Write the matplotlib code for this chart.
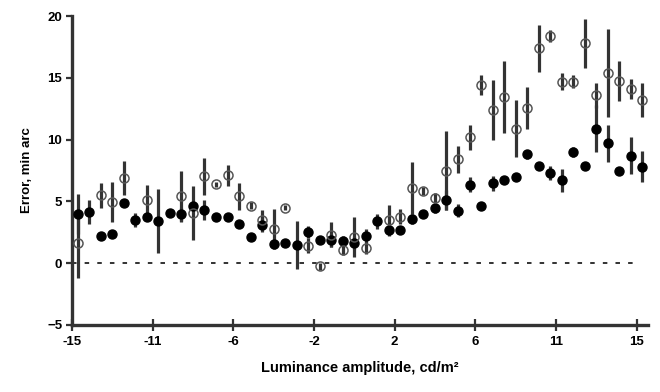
import numpy as np
import matplotlib.pyplot as plt

plt.rcParams['font.family'] = ['Liberation Sans', 'DejaVu Sans']
plt.rcParams['font.weight'] = 'bold'

# 50 luminance-amplitude categories, labelled every 7th
tick_labels = ["-15", "-11", "-6", "-2", "2", "6", "11", "15"]

# filled symbols
filled = [4.0, 4.15, 2.2, 2.4, 4.9, 3.5, 3.7, 3.4, 4.05, 3.95,
          4.6, 4.3, 3.75, 3.75, 3.15, 2.1, 3.1, 1.55, 1.65, 1.5,
          2.5, 1.9, 1.85, 1.8, 1.65, 2.2, 3.4, 2.7, 2.7, 3.6,
          3.95, 4.5, 5.1, 4.25, 6.35, 4.65, 6.45, 6.7, 7.0, 8.8,
          7.9, 7.3, 6.7, 9.0, 7.9, 10.9, 9.7, 7.5, 8.7, 7.8]
filled_err = [1.6, 1.0, 0.3, 0.3, 0.3, 0.6, 0.3, 2.6, 0.3, 0.5,
              0.4, 0.8, 0.3, 0.3, 0.3, 0.2, 0.6, 0.4, 0.2, 1.95,
              0.5, 0.3, 0.5, 0.4, 0.5, 0.6, 0.6, 0.5, 0.3, 0.4,
              0.3, 0.4, 0.8, 0.5, 0.6, 0.3, 0.6, 0.3, 0.3, 0.4,
              0.3, 0.6, 0.9, 0.4, 0.3, 1.9, 1.5, 0.3, 1.5, 1.25]

# open symbols (nan = hidden behind a filled one)
nan = np.nan
opened = [1.6, nan, 5.5, 4.95, 6.9, nan, 5.1, nan, nan, 5.4,
          4.05, 7.05, 6.4, 7.1, 5.4, 4.65, 3.5, 2.8, 4.5, nan,
          1.4, -0.25, 2.3, 1.05, 2.1, 1.25, nan, 3.5, 3.75, 6.1,
          5.85, 5.25, 7.5, 8.4, 10.2, 14.4, 12.4, 13.45, 10.9, 12.6,
          17.4, 18.4, 14.7, 14.7, 17.8, 13.6, 15.4, 14.75, 14.1, 13.2]
opened_err = [2.8, 0, 1.0, 1.6, 1.4, 0, 1.2, 0, 0, 2.1,
              2.2, 1.5, 0.2, 0.85, 1.1, 0.3, 0.8, 1.6, 0.2, 0,
              0.6, 0.3, 1.0, 0.4, 1.6, 0.5, 0, 1.2, 0.6, 2.1,
              0.3, 0.4, 3.2, 1.1, 1.0, 0.8, 2.45, 2.95, 2.3, 1.7,
              1.9, 0.5, 0.7, 0.5, 2.0, 1.0, 3.55, 1.6, 0.8, 1.4]

x = np.arange(len(filled)) + 0.5

fig = plt.figure(figsize=(6.6, 3.92), dpi=100)
ax = fig.add_axes([0.109, 0.171, 0.873, 0.788])

# dashed zero line
ax.axhline(0, xmin=0, xmax=0.975, ls=(0, (2.5, 4.5)), color='#222', lw=1.3, zorder=1)

ax.errorbar(x, filled, yerr=filled_err, fmt='none', ecolor='#333', elinewidth=2.3, capsize=0, zorder=2)
ax.errorbar(x, opened, yerr=opened_err, fmt='none', ecolor='#333', elinewidth=2.3, capsize=0, zorder=2)
ax.plot(x, filled, 'o', color='black', ms=6.5, zorder=3)
ax.plot(x, opened, 'o', mfc='none', mec='#555', mew=1.1, ms=6.5, zorder=4)

ax.set_xlim(0, 50)
ax.set_ylim(-5, 20)
ax.set_xticks(np.arange(0, 50, 7))
ax.set_xticklabels(tick_labels)
ax.set_yticks([-5, 0, 5, 10, 15, 20])

for s in ['top', 'right']:
    ax.spines[s].set_visible(False)
for s in ['left', 'bottom']:
    ax.spines[s].set_linewidth(2.4)
    ax.spines[s].set_color('#333')
ax.tick_params(axis='x', direction='inout', length=8, width=1.6, color='#333', labelsize=9.5, pad=4)
ax.tick_params(axis='y', direction='out', length=4, width=1.6, color='#333', labelsize=9.5, pad=3)

ax.set_xlabel('Luminance amplitude, cd/m²', fontsize=10.5, fontweight='bold', labelpad=9)
ax.set_ylabel('Error, min arc', fontsize=9.5, fontweight='bold', labelpad=10)

fig.savefig('out.png', dpi=100)
